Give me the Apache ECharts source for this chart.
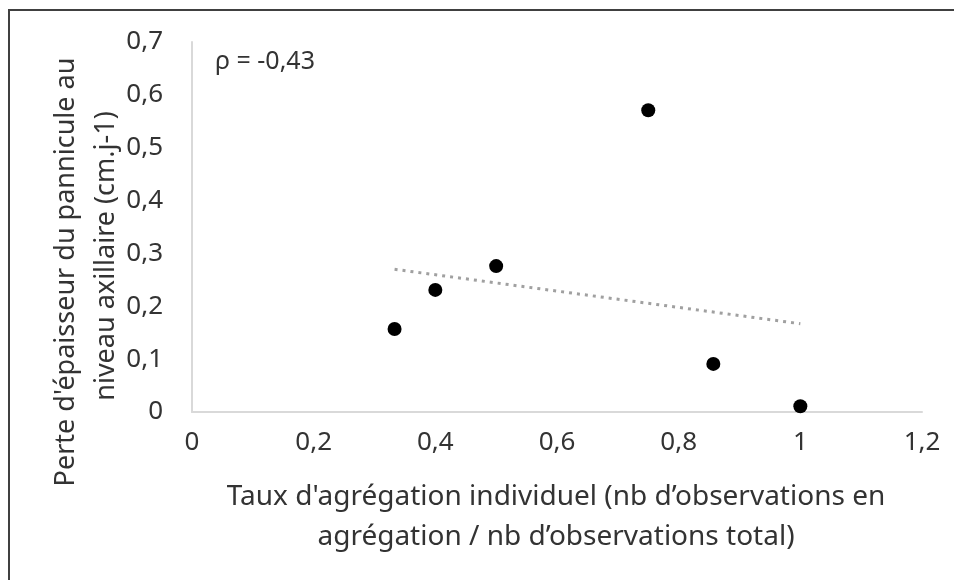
<!DOCTYPE html>
<html>
<head>
<meta charset="utf-8">
<script src="https://cdn.jsdelivr.net/npm/echarts@6/dist/echarts.min.js"></script>
<style>
  html, body { margin: 0; padding: 0; background: #ffffff; }
  #chart { width: 954px; height: 580px; }
</style>
</head>
<body>
<div id="chart"></div>
<script>
// ---- data ----
const aggregationRate = [0.333, 0.4, 0.5, 0.75, 0.857, 1.0];
const thicknessLoss   = [0.157, 0.231, 0.276, 0.571, 0.091, 0.011];
const trendX = [0.333, 1.0];
const trendY = [0.270, 0.167];
const xTickLabels = ['0', '0,2', '0,4', '0,6', '0,8', '1', '1,2'];
const yTickLabels = ['0', '0,1', '0,2', '0,3', '0,4', '0,5', '0,6', '0,7'];
const xTitleLines = ["Taux d'agrégation individuel (nb d’observations en", "agrégation / nb d’observations total)"];
const yTitleLines = ["Perte d'épaisseur du pannicule au", "niveau axillaire (cm.j-1)"];
const annotation = 'ρ = -0,43';

const FONT = '"Noto Sans", "Open Sans", sans-serif';
const TXT = '#333333';

const chart = echarts.init(document.getElementById('chart'), null, { renderer: 'canvas' });

const points = aggregationRate.map((x, i) => [x, thicknessLoss[i]]);
const trend = trendX.map((x, i) => [x, trendY[i]]);

function fmt(labels, step) {
  return function (v) {
    const idx = Math.round(v / step);
    return labels[idx] !== undefined ? labels[idx] : String(v).replace('.', ',');
  };
}

const option = {
  animation: false,
  backgroundColor: '#ffffff',
  grid: {
    left: 192, right: 32, top: 42, bottom: 168,
    containLabel: false,
    outerBoundsMode: 'none'
  },
  xAxis: {
    type: 'value',
    min: 0, max: 1.2, interval: 0.2,
    axisLine: { show: true, lineStyle: { color: '#d9d9d9', width: 2 } },
    axisTick: { show: false },
    splitLine: { show: false },
    axisLabel: {
      margin: 18,
      color: TXT,
      fontFamily: FONT,
      fontSize: 26,
      formatter: fmt(xTickLabels, 0.2)
    }
  },
  yAxis: {
    type: 'value',
    min: 0, max: 0.7, interval: 0.1,
    axisLine: { show: true, lineStyle: { color: '#d9d9d9', width: 2 } },
    axisTick: { show: false },
    splitLine: { show: false },
    axisLabel: {
      margin: 29,
      color: TXT,
      fontFamily: FONT,
      fontSize: 26,
      formatter: fmt(yTickLabels, 0.1)
    }
  },
  series: [
    {
      type: 'line',
      data: trend,
      symbol: 'none',
      silent: true,
      lineStyle: { color: '#a0a0a0', width: 3, type: [3, 5], cap: 'butt' },
      z: 1
    },
    {
      type: 'scatter',
      data: points,
      symbol: 'circle',
      symbolSize: 14,
      itemStyle: { color: '#000000', opacity: 1 },
      z: 2
    }
  ],
  graphic: [
    {
      type: 'rect',
      shape: { x: 9, y: 10, width: 1000, height: 1000 },
      style: { fill: 'none', stroke: '#404040', lineWidth: 2 },
      silent: true, z: 100
    },
    {
      type: 'text', x: 215, y: 62,
      style: { text: annotation, fill: TXT, font: '25px ' + FONT, align: 'left', verticalAlign: 'middle' }
    },
    {
      type: 'text', x: 556, y: 497,
      style: { text: xTitleLines[0], fill: TXT, font: '28px ' + FONT, align: 'center', verticalAlign: 'middle' }
    },
    {
      type: 'text', x: 556, y: 537,
      style: { text: xTitleLines[1], fill: TXT, font: '28px ' + FONT, align: 'center', verticalAlign: 'middle' }
    },
    {
      type: 'text', x: 66, y: 272, rotation: Math.PI / 2,
      style: { text: yTitleLines[0], fill: TXT, font: '27px ' + FONT, align: 'center', verticalAlign: 'middle' }
    },
    {
      type: 'text', x: 106, y: 256, rotation: Math.PI / 2,
      style: { text: yTitleLines[1], fill: TXT, font: '27px ' + FONT, align: 'center', verticalAlign: 'middle' }
    }
  ]
};

chart.setOption(option);
</script>
</body>
</html>
